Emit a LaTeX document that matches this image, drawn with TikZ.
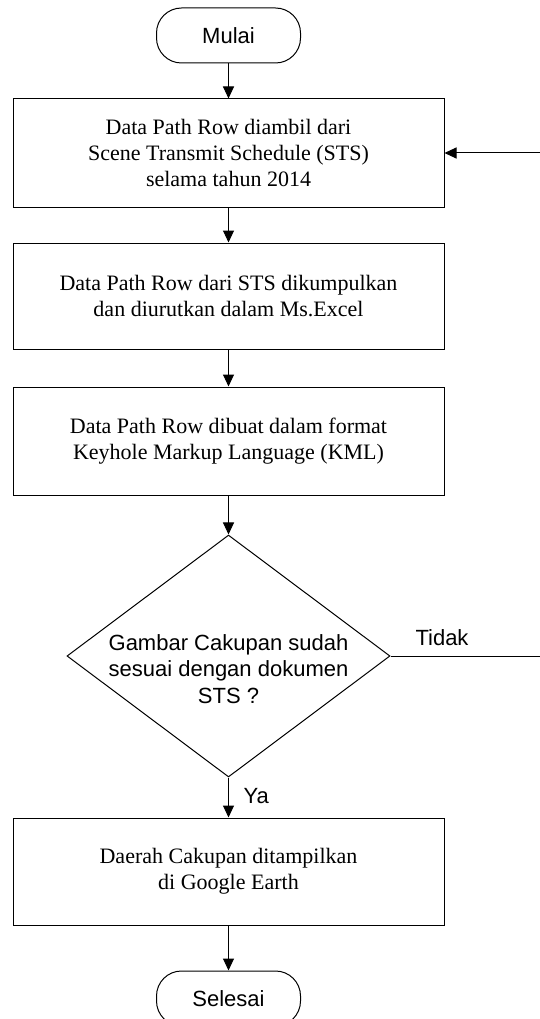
\documentclass[tikz,border=0pt]{standalone}
\usepackage{fontspec}
\setmainfont{Liberation Serif}
\newfontfamily\arialfont{Liberation Sans}
\usetikzlibrary{arrows.meta,shapes.geometric}
\begin{document}
\begin{tikzpicture}[x=1pt,y=-1pt,line width=1pt,
  proc/.style={draw, minimum width=431pt, minimum height=108pt, align=center,
    font=\fontsize{22}{26}\selectfont, inner sep=0pt},
  term/.style={draw, rounded corners=25pt, minimum width=144pt, minimum height=55pt,
    font=\arialfont\fontsize{22}{26}\selectfont, inner sep=0pt},
  dec/.style={draw, diamond, minimum width=323pt, minimum height=242pt, inner sep=0pt},
  sanstext/.style={font=\arialfont\fontsize{22}{26.5}\selectfont, align=center, inner sep=0pt},
  arr/.style={-{Triangle[length=12pt,width=11pt]}}
]
\clip (0,0) rectangle (540,1019);
\node[term] (start) at (228.5,35.5) {Mulai};
\node[proc] (b1) at (228.5,153) {Data Path Row diambil dari\\Scene Transmit Schedule (STS)\\selama tahun 2014};
\node[proc, minimum height=106pt] (b2) at (228.5,296) {Data Path Row dari STS dikumpulkan\\dan diurutkan dalam Ms.Excel};
\node[proc] (b3) at (228.5,441) {Data Path Row dibuat dalam format\\Keyhole Markup Language (KML)};
\node[dec] (d) at (228.5,656) {};
\node[sanstext] (dt) at (228.5,669) {Gambar Cakupan sudah\\sesuai dengan dokumen\\STS ?};
\node[proc, minimum height=107pt] (b4) at (228.5,871.5) {Daerah Cakupan ditampilkan\\di Google Earth};
\node[term] (end) at (228.5,998.5) {Selesai};
\node[sanstext, anchor=base west] (tidak) at (415,645) {Tidak};
\node[sanstext, anchor=base west] (ya) at (243,803) {Ya};
\draw[arr] (start) -- (b1);
\draw[arr] (b1) -- (b2);
\draw[arr] (b2) -- (b3);
\draw[arr] (b3) -- (d);
\draw[arr] (d) -- (b4);
\draw[arr] (b4) -- (end);
\draw[arr] (d.east) -- ++(160,0) |- (b1.east);
\end{tikzpicture}
\end{document}
